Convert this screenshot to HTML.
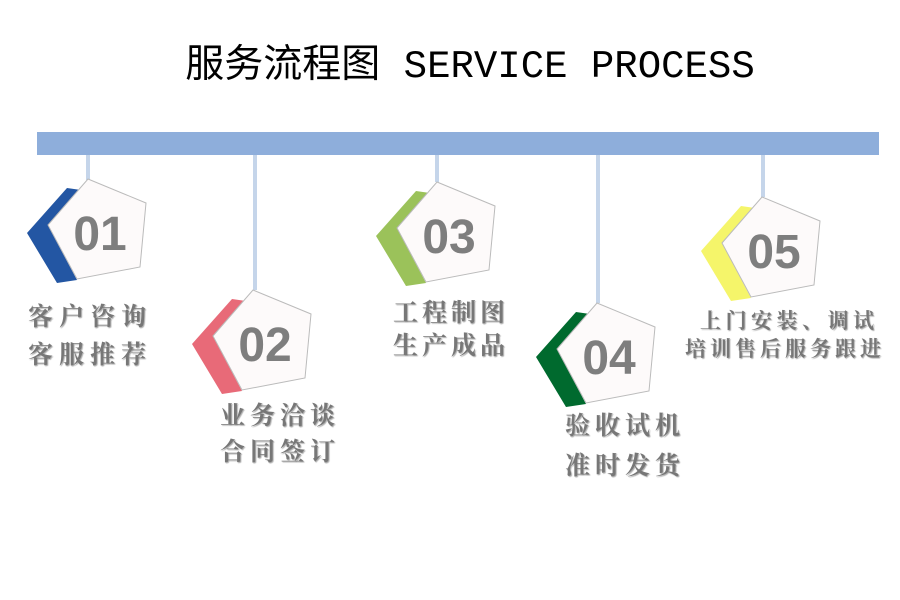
<!DOCTYPE html>
<html><head><meta charset="utf-8"><style>
body{margin:0;width:900px;height:600px;background:#fff;overflow:hidden;position:relative}
.t{position:absolute;left:20px;width:900px;top:33px;text-align:center;font-size:39px;color:#000;font-family:"Liberation Mono","Noto Sans CJK SC",monospace;white-space:nowrap}
.l{position:absolute;font-family:"Noto Serif CJK SC","Noto Sans CJK SC",serif;font-weight:bold;color:#777;white-space:nowrap;text-shadow:1px 1px 1px #aaa}
</style></head><body>
<div class="t"><span style="font-family:'Noto Sans CJK SC',sans-serif">服务流程图</span> SERVICE PROCESS</div>
<svg width="900" height="600" style="position:absolute;left:0;top:0">
<defs>
<g id="pent">
<polygon points="0,0 58,24 52,88 -11,100 -40,46" fill="#fdfafa" stroke="#bbb" stroke-width="1"/>
</g>
</defs>
<rect x="37" y="132" width="842" height="23" fill="#8eaedb"/>
<g stroke="#c5d5ea" stroke-width="4">
<line x1="88" y1="155" x2="88" y2="180"/>
<line x1="255" y1="155" x2="255" y2="290"/>
<line x1="437" y1="155" x2="437" y2="182"/>
<line x1="598" y1="155" x2="598" y2="303"/>
<line x1="763" y1="155" x2="763" y2="197"/>
</g>
<g font-family="Liberation Sans,sans-serif" font-weight="bold" font-size="48" fill="#7e7e7e" text-anchor="middle">
<g transform="translate(88,179)"><polygon points="-21,9 0,12 -40,46 -11,101 -31,104 -61,54" fill="#2356a3"/><use href="#pent"/><text x="12" y="71">01</text></g>
<g transform="translate(253,290)"><polygon points="-21,9 0,12 -40,46 -11,101 -31,104 -61,54" fill="#e86a78"/><use href="#pent"/><text x="12" y="71">02</text></g>
<g transform="translate(437,182)"><polygon points="-21,9 0,12 -40,46 -11,101 -31,104 -61,54" fill="#9bc25a"/><use href="#pent"/><text x="12" y="71">03</text></g>
<g transform="translate(597,303)"><polygon points="-21,9 0,12 -40,46 -11,101 -31,104 -61,54" fill="#006a2e"/><use href="#pent"/><text x="12" y="71">04</text></g>
<g transform="translate(762,197)"><polygon points="-21,9 0,12 -40,46 -11,101 -31,104 -61,54" fill="#f5f56a"/><use href="#pent"/><text x="12" y="71">05</text></g>
</g>
</svg>
<div class="l" style="left:28px;top:296px;font-size:25px;letter-spacing:6px;line-height:38px">客户咨询<br>客服推荐</div>
<div class="l" style="left:220px;top:396px;font-size:25px;letter-spacing:5px;line-height:36px">业务洽谈<br>合同签订</div>
<div class="l" style="left:393px;top:295px;font-size:25px;letter-spacing:4px;line-height:33px">工程制图<br>生产成品</div>
<div class="l" style="left:565px;top:404px;font-size:25px;letter-spacing:5px;line-height:40px">验收试机<br>准时发货</div>
<div class="l" style="left:700px;top:306px;font-size:21px;letter-spacing:4.5px;line-height:28px">上门安装、调试</div>
<div class="l" style="left:685px;top:334px;font-size:21px;letter-spacing:4px;line-height:28px">培训售后服务跟进</div>
</body></html>
